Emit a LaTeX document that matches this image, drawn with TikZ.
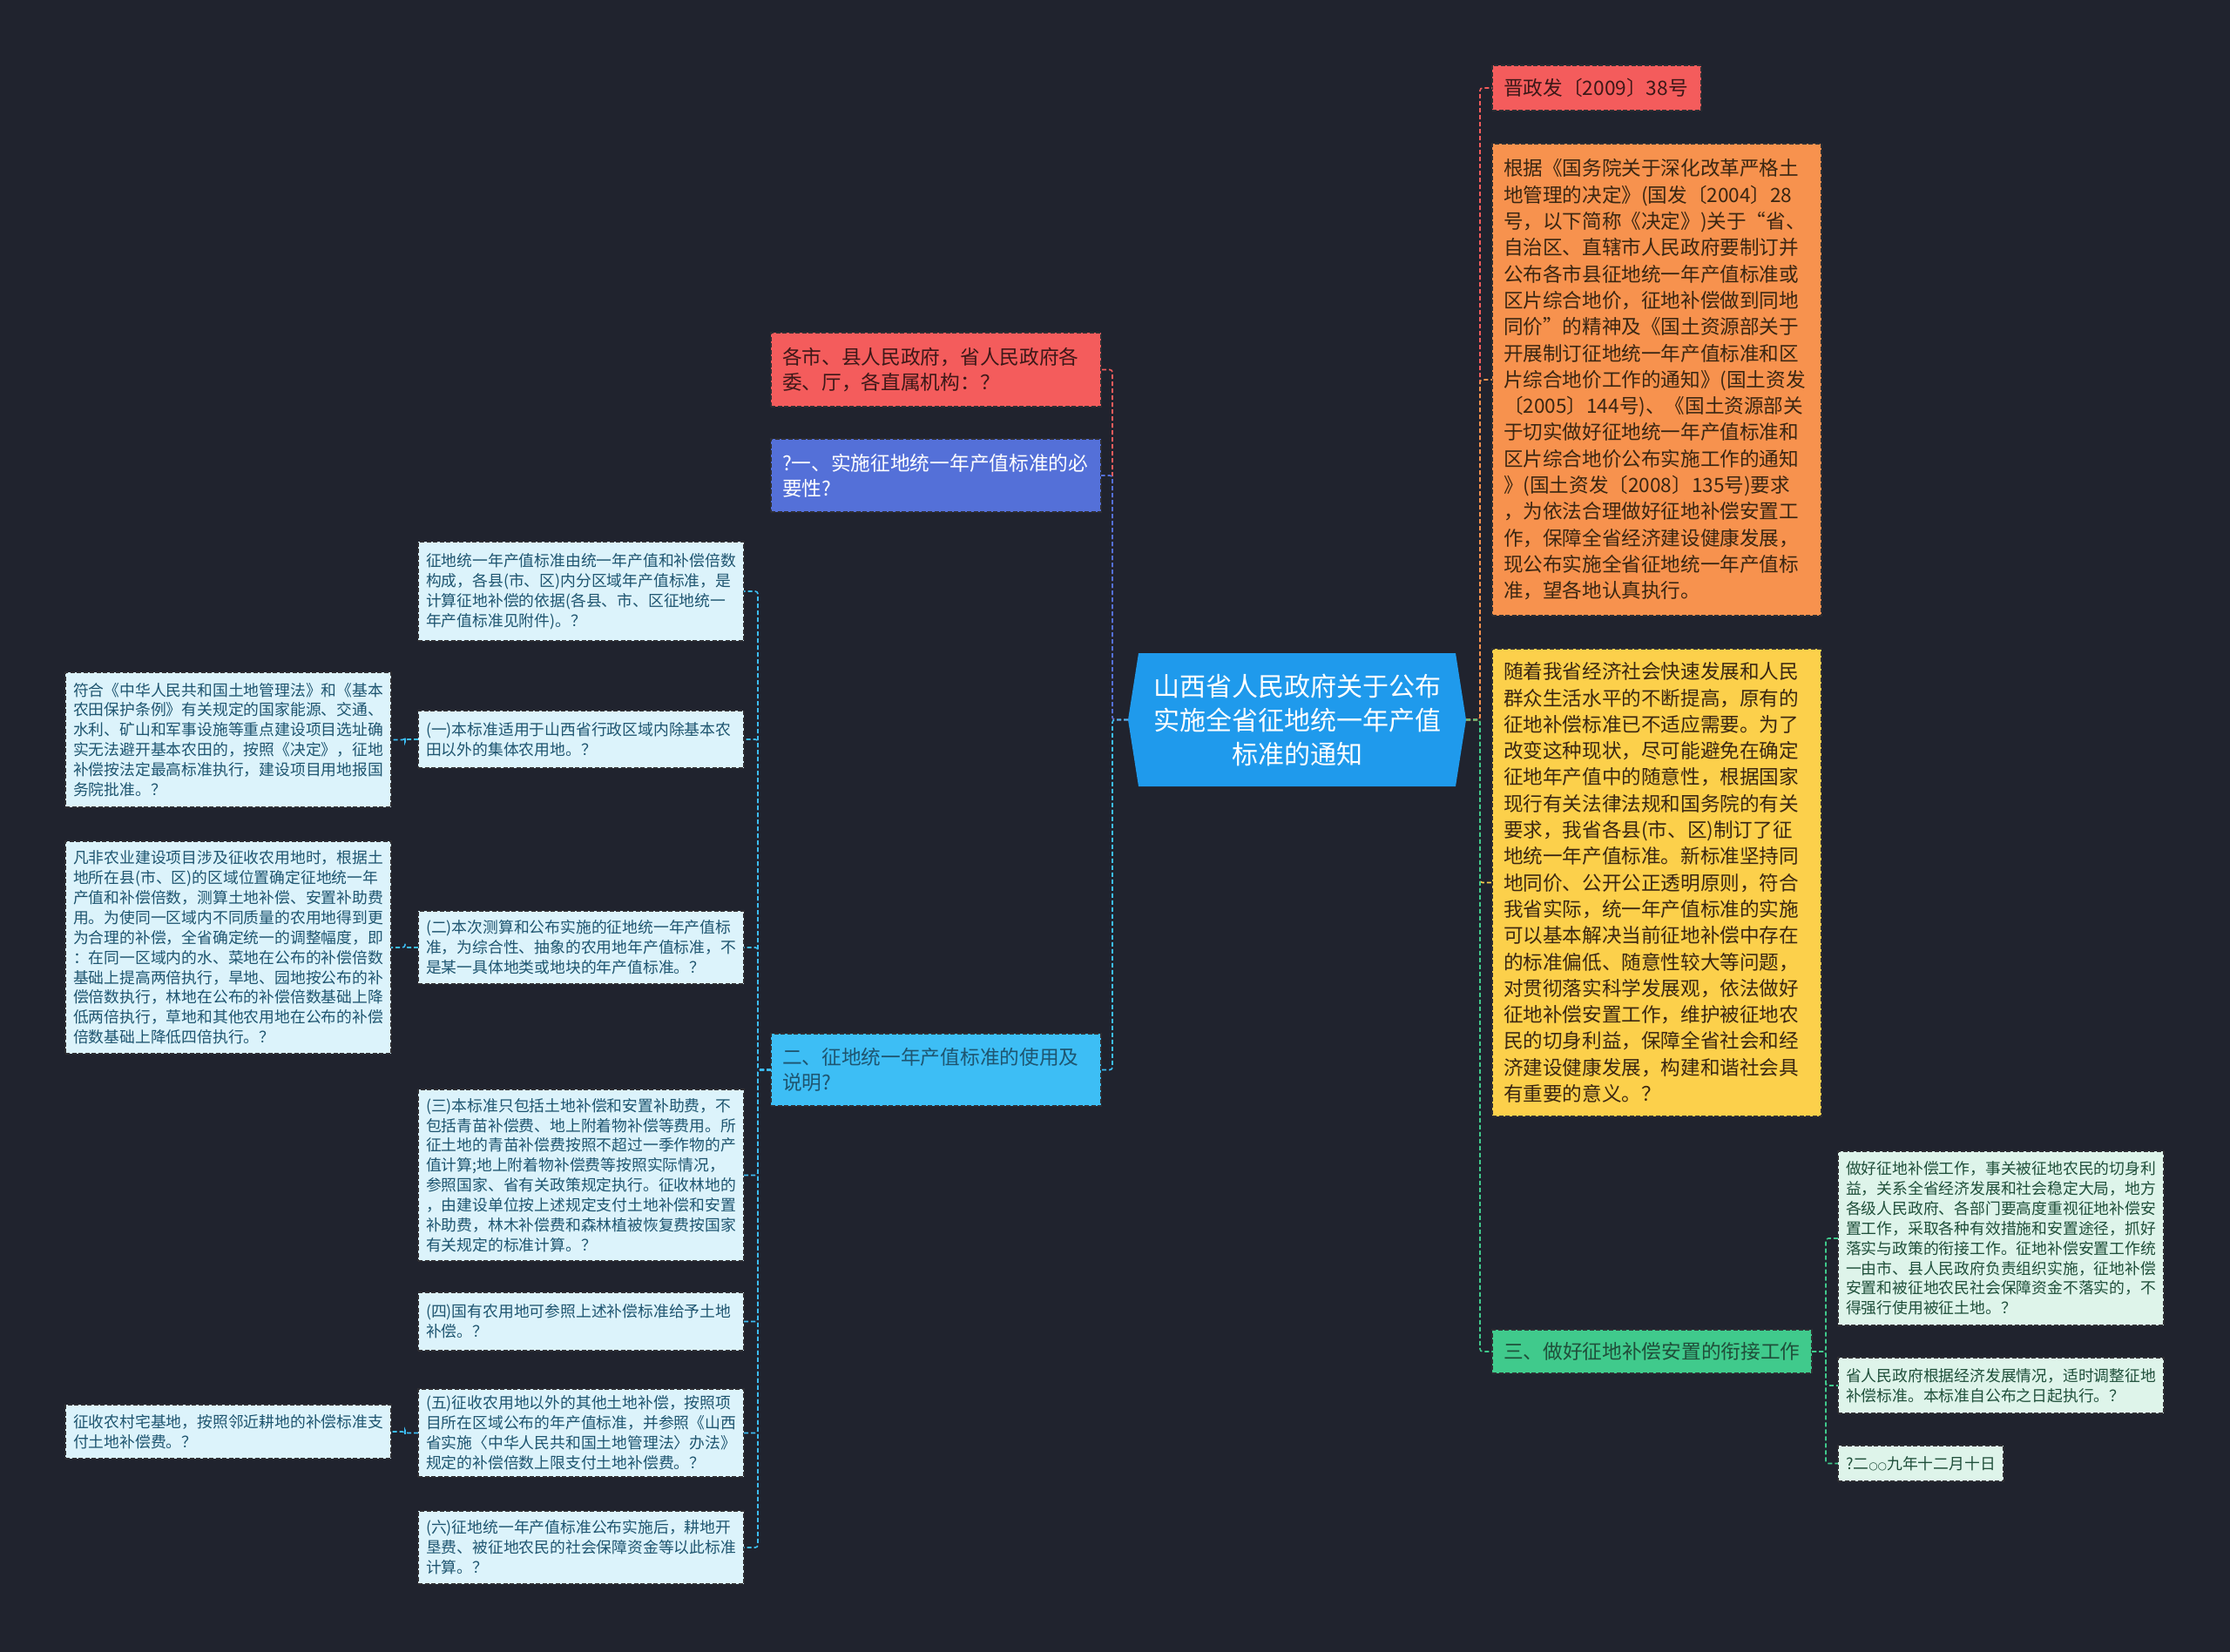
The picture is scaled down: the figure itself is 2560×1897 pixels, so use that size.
\documentclass[tikz,border=0pt]{standalone}
\usepackage{fontspec}
\setmainfont{Noto Sans CJK SC}
\newfontfamily\djvfont{DejaVu Sans}
\usetikzlibrary{backgrounds}
\definecolor{bgc}{HTML}{20232E}
\definecolor{rootc}{HTML}{1F9AEC}
\definecolor{redc}{HTML}{F45C5C}
\definecolor{bluec}{HTML}{5470D8}
\definecolor{cyanc}{HTML}{3DBEF5}
\definecolor{lcyan}{HTML}{DCF3FB}
\definecolor{orangec}{HTML}{F7924E}
\definecolor{yellowc}{HTML}{FCD04B}
\definecolor{greenc}{HTML}{40CA8C}
\definecolor{lgreen}{HTML}{DEF4EA}
\definecolor{bordc}{HTML}{2E2E33}
\definecolor{tcyan}{HTML}{1E5570}
\definecolor{tgreen}{HTML}{1F4F3A}
\definecolor{tred}{HTML}{3D1818}
\definecolor{tbrown}{HTML}{3A2612}
\tikzset{
  box/.style={draw=bordc, dash pattern=on 5pt off 2.5pt, line width=1.4pt,
    anchor=north west, align=left, inner ysep=0pt, outer sep=0pt},
  smallbox/.style={box, font=\fontsize{17.8}{22.9}\selectfont, inner xsep=9pt, text width=356pt},
  cyanleaf/.style={smallbox, fill=lcyan, text=tcyan},
  greenleaf/.style={smallbox, fill=lgreen, text=tgreen},
  bigbox/.style={box, font=\fontsize{22.7}{29.4}\selectfont, inner xsep=13pt, text width=353pt},
  longbox/.style={box, font=\fontsize{22.6}{30.3}\selectfont, inner xsep=13pt, text width=352pt},
  conn/.style={dash pattern=on 5pt off 3pt, line width=1.6pt, rounded corners=3pt},
}
\begin{document}
\begin{tikzpicture}[x=1pt,y=-1pt]
\begin{scope}[on background layer]
\fill[bgc] (0,0) rectangle (2560,1897);
\end{scope}
\useasboundingbox (0,0) rectangle (2560,1897);

% root
\node[minimum width=388pt, minimum height=153pt, inner sep=0pt, outer sep=0pt, align=center,
  text=white, font=\fontsize{30}{39}\selectfont] (root) at (1489,826.5)
  {山西省人民政府关于公布\\实施全省征地统一年产值\\标准的通知};
\begin{scope}[on background layer]
\fill[rootc] ([xshift=12pt]root.north west) -- ([xshift=-12pt]root.north east) -- (root.east)
  -- ([xshift=-12pt]root.south east) -- ([xshift=12pt]root.south west) -- (root.west) -- cycle;
\end{scope}

% left level 1
\node[bigbox, fill=redc, text=tred, minimum height=85pt] (lred) at (885,382)
  {各市、县人民政府，省人民政府各\\委、厅，各直属机构：？};
\node[bigbox, fill=bluec, text=white, minimum height=84pt] (lblue) at (885,504)
  {?一、实施征地统一年产值标准的必\\要性?};
\node[bigbox, fill=cyanc, text=tcyan, minimum height=83pt] (lcyan) at (885,1187)
  {二、征地统一年产值标准的使用及\\说明?};

% middle column
\node[cyanleaf, minimum height=114pt] (n1) at (480,622)
  {征地统一年产值标准由统一年产值和补偿倍数\\构成，各县(市、区)内分区域年产值标准，是\\计算征地补偿的依据(各县、市、区征地统一\\年产值标准见附件)。？};
\node[cyanleaf, minimum height=66pt] (n2) at (480,816)
  {(一)本标准适用于山西省行政区域内除基本农\\田以外的集体农用地。？};
\node[cyanleaf, minimum height=84pt] (n3) at (480,1046)
  {(二)本次测算和公布实施的征地统一年产值标\\准，为综合性、抽象的农用地年产值标准，不\\是某一具体地类或地块的年产值标准。？};
\node[cyanleaf, minimum height=197pt] (n4) at (480,1251)
  {(三)本标准只包括土地补偿和安置补助费，不\\包括青苗补偿费、地上附着物补偿等费用。所\\征土地的青苗补偿费按照不超过一季作物的产\\值计算;地上附着物补偿费等按照实际情况，\\参照国家、省有关政策规定执行。征收林地的\\，由建设单位按上述规定支付土地补偿和安置\\补助费，林木补偿费和森林植被恢复费按国家\\有关规定的标准计算。？};
\node[cyanleaf, minimum height=67pt] (n5) at (480,1484)
  {(四)国有农用地可参照上述补偿标准给予土地\\补偿。？};
\node[cyanleaf, minimum height=101pt] (n6) at (480,1595)
  {(五)征收农用地以外的其他土地补偿，按照项\\目所在区域公布的年产值标准，并参照《山西\\省实施〈中华人民共和国土地管理法〉办法》\\规定的补偿倍数上限支付土地补偿费。？};
\node[cyanleaf, minimum height=84pt] (n7) at (480,1735)
  {(六)征地统一年产值标准公布实施后，耕地开\\垦费、被征地农民的社会保障资金等以此标准\\计算。？};

% left column
\node[cyanleaf, minimum height=155pt] (la) at (75,772)
  {符合《中华人民共和国土地管理法》和《基本\\农田保护条例》有关规定的国家能源、交通、\\水利、矿山和军事设施等重点建设项目选址确\\实无法避开基本农田的，按照《决定》，征地\\补偿按法定最高标准执行，建设项目用地报国\\务院批准。？};
\node[cyanleaf, minimum height=244pt] (lb) at (75,966)
  {凡非农业建设项目涉及征收农用地时，根据土\\地所在县(市、区)的区域位置确定征地统一年\\产值和补偿倍数，测算土地补偿、安置补助费\\用。为使同一区域内不同质量的农用地得到更\\为合理的补偿，全省确定统一的调整幅度，即\\：在同一区域内的水、菜地在公布的补偿倍数\\基础上提高两倍执行，旱地、园地按公布的补\\偿倍数执行，林地在公布的补偿倍数基础上降\\低两倍执行，草地和其他农用地在公布的补偿\\倍数基础上降低四倍执行。？};
\node[cyanleaf, minimum height=62pt] (lc) at (75,1613)
  {征收农村宅基地，按照邻近耕地的补偿标准支\\付土地补偿费。？};

% right level 1
\node[box, font=\fontsize{22.7}{29}\selectfont, inner xsep=13pt, text width=214pt,
  fill=redc, text=tred, minimum height=52pt] (rjzf) at (1713,75) {晋政发〔2009〕38号};
\node[longbox, fill=orangec, text=tbrown, minimum height=542pt] (rorange) at (1713,165)
  {根据《国务院关于深化改革严格土\\地管理的决定》(国发〔2004〕28\\号，以下简称《决定》)关于“省、\\自治区、直辖市人民政府要制订并\\公布各市县征地统一年产值标准或\\区片综合地价，征地补偿做到同地\\同价”的精神及《国土资源部关于\\开展制订征地统一年产值标准和区\\片综合地价工作的通知》(国土资发\\〔2005〕144号)、《国土资源部关\\于切实做好征地统一年产值标准和\\区片综合地价公布实施工作的通知\\》(国土资发〔2008〕135号)要求\\，为依法合理做好征地补偿安置工\\作，保障全省经济建设健康发展，\\现公布实施全省征地统一年产值标\\准，望各地认真执行。};
\node[longbox, fill=yellowc, text=tbrown, minimum height=537pt] (ryellow) at (1713,745)
  {随着我省经济社会快速发展和人民\\群众生活水平的不断提高，原有的\\征地补偿标准已不适应需要。为了\\改变这种现状，尽可能避免在确定\\征地年产值中的随意性，根据国家\\现行有关法律法规和国务院的有关\\要求，我省各县(市、区)制订了征\\地统一年产值标准。新标准坚持同\\地同价、公开公正透明原则，符合\\我省实际，统一年产值标准的实施\\可以基本解决当前征地补偿中存在\\的标准偏低、随意性较大等问题，\\对贯彻落实科学发展观，依法做好\\征地补偿安置工作，维护被征地农\\民的切身利益，保障全省社会和经\\济建设健康发展，构建和谐社会具\\有重要的意义。？};
\node[box, font=\fontsize{22.7}{29}\selectfont, inner xsep=13pt, text width=341pt,
  fill=greenc, text=tgreen, minimum height=50pt] (rgreen) at (1713,1527)
  {三、做好征地补偿安置的衔接工作};

% right level 2
\node[greenleaf, minimum height=200pt] (g1) at (2110,1322)
  {做好征地补偿工作，事关被征地农民的切身利\\益，关系全省经济发展和社会稳定大局，地方\\各级人民政府、各部门要高度重视征地补偿安\\置工作，采取各种有效措施和安置途径，抓好\\落实与政策的衔接工作。征地补偿安置工作统\\一由市、县人民政府负责组织实施，征地补偿\\安置和被征地农民社会保障资金不落实的，不\\得强行使用被征土地。？};
\node[greenleaf, minimum height=64pt] (g2) at (2110,1559)
  {省人民政府根据经济发展情况，适时调整征地\\补偿标准。本标准自公布之日起执行。？};
\node[greenleaf, text width=172pt, inner xsep=9pt, minimum height=41pt] (g3) at (2110,1660)
  {?二{\djvfont\fontsize{12}{12}\selectfont ○○}九年十二月十日};

% connectors: root to left
\draw[conn, redc] (root.west) -- ++(-18,0) |- (lred.east);
\draw[conn, bluec] (root.west) -- ++(-18,0) |- (lblue.east);
\draw[conn, cyanc] (root.west) -- ++(-18,0) |- (lcyan.east);
% lcyan to middle
\foreach \n in {n1,n2,n3,n4,n5,n6,n7}
  \draw[conn, cyanc] (lcyan.west) -- ++(-15,0) |- (\n.east);
% middle to left
\draw[conn, cyanc] (n2.west) -- ++(-15,0) |- (la.east);
\draw[conn, cyanc] (n3.west) -- ++(-15,0) |- (lb.east);
\draw[conn, cyanc] (n6.west) -- ++(-15,0) |- (lc.east);
% root to right
\draw[conn, redc] (root.east) -- ++(16,0) |- (rjzf.west);
\draw[conn, orangec] (root.east) -- ++(16,0) |- (rorange.west);
\draw[conn, yellowc] (root.east) -- ++(16,0) |- (ryellow.west);
\draw[conn, greenc] (root.east) -- ++(16,0) |- (rgreen.west);
% green to its children
\foreach \n in {g1,g2,g3}
  \draw[conn, greenc] (rgreen.east) -- ++(16,0) |- (\n.west);
\end{tikzpicture}
\end{document}
